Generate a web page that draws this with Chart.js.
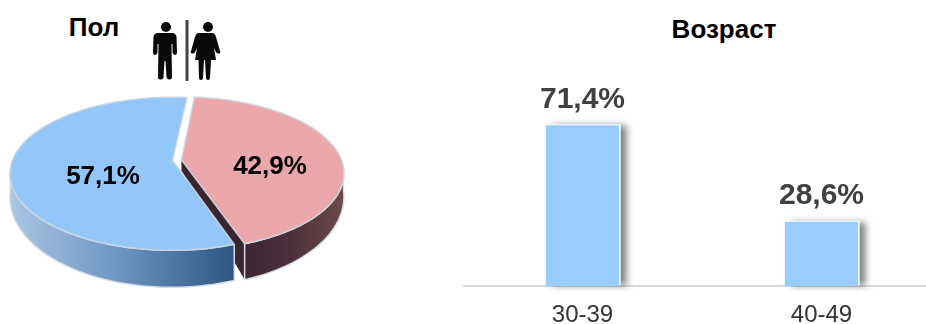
<!DOCTYPE html>
<html lang="ru">
<head>
<meta charset="utf-8">
<title>Пол и возраст</title>
<script src="https://cdn.jsdelivr.net/npm/chart.js@4"></script>
<style>
  html, body { margin: 0; padding: 0; background: #fff; }
  body { position: relative; width: 926px; height: 324px; overflow: hidden; font-family: "Liberation Sans", Arial, sans-serif; }
  canvas { position: absolute; top: 0; }
  #gender-chart { left: 0; }
  #age-chart { left: 463px; }
  .chart-title { position: absolute; font-weight: bold; font-size: 26px; line-height: 30px; color: #000; transform: translateX(-50%); white-space: nowrap; }
  #gender-icons { position: absolute; left: 150px; top: 15px; filter: blur(0.5px); }
</style>
</head>
<body>
<div class="chart-title" style="left:94px;top:12px">Пол</div>
<div class="chart-title" style="left:724px;top:14px">Возраст</div>
<svg id="gender-icons" width="76" height="70" viewBox="150 15 76 70" aria-hidden="true">
  <g fill="#0a0a0a">
    <circle cx="166" cy="27" r="5"/>
    <path d="M160 33h12q4 0 4.500 4l.5 15q0 3-2 3t-2.500-3v-8h-1l.5 33q0 2.500-2.500 2.500t-3-2.500l-1-16h-1l-1 16q0 2.500-3 2.500t-2.500-2.500l.5-33h-1v8q-.5 3-2.500 3t-2-3l.5-15q.500-4 4.500-4z"/>
    <circle cx="208" cy="27" r="5"/>
    <path d="M204 33h8q3 0 4 4l4 14q1 2-1 2.500t-3-1.500l-2-4 2 12h-5l-1 18q0 2-2 2t-2-2l-1-18h-1l-1 18q0 2-2 2t-2-2l-.500-18h-3.500l2-12-2 4q-1 2-3 1.500t-1-2.500l4-14q1-4 4-4z"/>
  </g>
  <rect x="185.500" y="20" width="3" height="61" fill="#444"/>
</svg>
<canvas id="gender-chart" width="360" height="324"></canvas>
<canvas id="age-chart" width="478" height="345"></canvas>
<script>
const genderLabels = ["Женщины", "Мужчины"];
const genderValues = [42.9, 57.1];
const ageLabels = ["30-39", "40-49"];
const ageValues = [71.4, 28.6];

const FONT = '"Liberation Sans", Arial, sans-serif';

function percentText(value) {
  return value.toFixed(1).replace(".", ",") + "%";
}

// the reference pie has a slight perspective, so the slices are projected by hand
const pieView = { cx: 177, cy: 160, rx: 160, ry: 76.5, tilt: 0.176, depth: 37 };
const pieLabelSpots = [
  { x: 270, y: 167 },
  { x: 103, y: 177 },
];
const pieTops = ["#eba7aa", "#93c7fa"];
const pieSides = [
  ["#3a2530", "#4b2f3b", "#6b4a46"],
  ["#a9c6e4", "#6a94bf", "#2c5681"],
];

function projectPie(u, v) {
  const k = 1 + pieView.tilt * v;
  return { x: pieView.cx + pieView.rx * u * k, y: pieView.cy + pieView.ry * v * k };
}

function sliceShift(arc) {
  const mid = (arc.startAngle + arc.endAngle) / 2;
  const shift = (arc.options.offset || 0) / pieView.rx;
  return { x: Math.cos(mid) * shift, y: Math.sin(mid) * shift };
}

function rimPoints(arc) {
  const shift = sliceShift(arc);
  const points = [];
  const steps = 120;
  for (let i = 0; i <= steps; i += 1) {
    const a = arc.startAngle + ((arc.endAngle - arc.startAngle) * i) / steps;
    points.push({ ...projectPie(shift.x + Math.cos(a), shift.y + Math.sin(a)), v: Math.sin(a) });
  }
  return points;
}

// the bottom rim sits closer to the top one at the far sides of the pie
function rimDepth(v) {
  return pieView.depth * (0.55 + 0.45 * v);
}

function traceTop(ctx, arc) {
  const shift = sliceShift(arc);
  const apex = projectPie(shift.x, shift.y);
  ctx.beginPath();
  ctx.moveTo(apex.x, apex.y);
  rimPoints(arc).forEach((p) => ctx.lineTo(p.x, p.y));
  ctx.closePath();
}

function traceRim(ctx, arc) {
  const front = rimPoints(arc).filter((p) => p.v >= 0.1);
  ctx.beginPath();
  front.forEach((p, i) => (i ? ctx.lineTo(p.x, p.y) : ctx.moveTo(p.x, p.y)));
  front.reverse().forEach((p) => ctx.lineTo(p.x, p.y + rimDepth(p.v)));
  ctx.closePath();
}

// cut face under the pink slice, seen through the gap between the slices
function traceCutFace(ctx, arc) {
  const shift = sliceShift(arc);
  const apex = projectPie(shift.x, shift.y);
  const rim = rimPoints(arc);
  const end = rim[rim.length - 1];
  const lift = rimDepth(end.v);
  ctx.beginPath();
  ctx.moveTo(apex.x, apex.y);
  ctx.lineTo(end.x, end.y);
  ctx.lineTo(end.x, end.y + lift);
  ctx.lineTo(apex.x, apex.y + lift * 0.3);
  ctx.closePath();
}

const pie3dPlugin = {
  id: "pie3d",
  beforeDatasetsDraw(chart) {
    const ctx = chart.ctx;
    const arcs = chart.getDatasetMeta(0).data;
    ctx.save();
    ctx.lineJoin = "round";
    arcs.forEach((arc, index) => {
      const stops = pieSides[index];
      const left = index === 0 ? 235 : 10;
      const right = index === 0 ? 343 : 235;
      const side = ctx.createLinearGradient(left, 0, right, 0);
      stops.forEach((color, i) => side.addColorStop(i / (stops.length - 1), color));
      if (index === 0) {
        traceCutFace(ctx, arc);
        ctx.fillStyle = "#3a2530";
        ctx.fill();
      }
      traceRim(ctx, arc);
      ctx.fillStyle = side;
      ctx.fill();
      ctx.strokeStyle = "#d5dbe2";
      ctx.lineWidth = 1.5;
      ctx.stroke();
      traceTop(ctx, arc);
      ctx.fillStyle = pieTops[index];
      ctx.fill();
      ctx.strokeStyle = "rgba(205, 214, 224, 0.9)";
      ctx.lineWidth = 1.5;
      ctx.stroke();
    });
    ctx.font = "bold 26px " + FONT;
    ctx.fillStyle = "#000";
    ctx.textAlign = "center";
    ctx.textBaseline = "middle";
    genderValues.forEach((value, index) => {
      ctx.fillText(percentText(value), pieLabelSpots[index].x, pieLabelSpots[index].y);
    });
    ctx.restore();
    return false;
  },
};

// white backing with a soft shadow to the right of each bar
const barShadowPlugin = {
  id: "barShadow",
  beforeDatasetsDraw(chart) {
    const ctx = chart.ctx;
    ctx.save();
    ctx.shadowColor = "rgba(0, 0, 0, 0.5)";
    ctx.shadowBlur = 7;
    ctx.shadowOffsetX = 6;
    ctx.shadowOffsetY = 1;
    ctx.fillStyle = "#ffffff";
    chart.getDatasetMeta(0).data.forEach((bar) => {
      ctx.fillRect(bar.x - bar.width / 2, bar.y - 1, bar.width + 1.5, bar.base - bar.y);
    });
    ctx.restore();
  },
};

const barValuePlugin = {
  id: "barValues",
  afterDatasetsDraw(chart) {
    const ctx = chart.ctx;
    ctx.save();
    ctx.font = "bold 30px " + FONT;
    ctx.fillStyle = "#404040";
    ctx.textAlign = "center";
    ctx.textBaseline = "bottom";
    chart.getDatasetMeta(0).data.forEach((bar, index) => {
      ctx.fillText(percentText(ageValues[index]), bar.x, bar.y - 11);
    });
    ctx.restore();
  },
};

new Chart(document.querySelector("#gender-chart"), {
  type: "pie",
  data: {
    labels: genderLabels,
    datasets: [{ data: genderValues, backgroundColor: pieTops, offset: 4.5, borderWidth: 0 }],
  },
  options: {
    responsive: false,
    animation: false,
    rotation: 6,
    plugins: { legend: { display: false }, tooltip: { enabled: false } },
  },
  plugins: [pie3dPlugin],
});

new Chart(document.querySelector("#age-chart"), {
  type: "bar",
  data: {
    labels: ageLabels,
    datasets: [
      {
        data: ageValues,
        backgroundColor: "#99ccff",
        borderWidth: 0,
        categoryPercentage: 1,
        barPercentage: 0.307,
      },
    ],
  },
  options: {
    responsive: false,
    animation: false,
    layout: { padding: { top: 106 } },
    scales: {
      x: {
        grid: { display: false, drawTicks: false, tickLength: 0 },
        border: { color: "#d9d9d9", width: 2 },
        ticks: { color: "#333333", font: { family: FONT, size: 24 }, padding: 15, maxRotation: 0 },
      },
      y: { display: false, min: 0, max: 80 },
    },
    plugins: { legend: { display: false }, tooltip: { enabled: false } },
  },
  plugins: [barShadowPlugin, barValuePlugin],
});
</script>
</body>
</html>
